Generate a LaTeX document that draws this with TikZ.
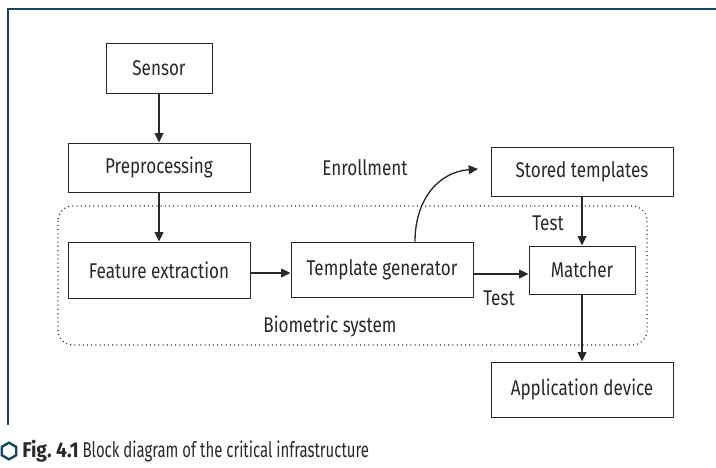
\documentclass[tikz,border=0pt]{standalone}
\usepackage{fontspec}
\setmainfont{Fira Sans}[FakeStretch=0.8]
\newfontfamily\capfont{Fira Sans}[FakeStretch=0.7]
\newfontfamily\capbold{Fira Sans Bold}[FakeStretch=0.9]
\usetikzlibrary{arrows.meta,shapes.geometric}
\definecolor{framecol}{RGB}{20,70,100}
\definecolor{inkcol}{RGB}{40,40,40}
\tikzset{
  blok/.style={draw=inkcol, line width=0.75pt, inner sep=0pt, text=inkcol,
    font=\fontsize{16}{19}\selectfont},
  lbl/.style={inner sep=0pt, text=inkcol, font=\fontsize{16}{19}\selectfont},
  arr/.style={draw=inkcol, line width=1pt, -{Triangle[length=7pt,width=6.5pt]}},
}
\begin{document}
\begin{tikzpicture}[x=0.75pt,y=0.75pt,yscale=-1,xscale=1]
        \useasboundingbox (0,0) rectangle (716,467);
        % frame
        \draw [framecol, line width=1.6pt] (716,9) -- (8,9) -- (8,425) ;
        % biometric system area
        \draw [inkcol, line width=0.9pt, dash pattern=on 0.75pt off 2.4pt, rounded corners=11pt] (58,206) rectangle (647,345) ;
        % blocks
        \node [blok, minimum width=79.5pt, minimum height=36.75pt] (sensor) at (159,68.5) {Sensor};
        \node [blok, minimum width=136.5pt, minimum height=36.75pt] (prep) at (159,167.5) {Preprocessing};
        \node [blok, minimum width=136.5pt, minimum height=42pt] (feat) at (159,270) {Feature extraction};
        \node [blok, minimum width=136.5pt, minimum height=41.25pt] (tgen) at (382,269.5) {Template generator};
        \node [blok, minimum width=136.5pt, minimum height=36.75pt] (store) at (582,171.5) {Stored templates};
        \node [blok, minimum width=79.5pt, minimum height=36pt] (match) at (582,270) {Matcher};
        \node [blok, minimum width=136.5pt, minimum height=41.25pt] (appdev) at (582,389.5) {Application device};
        % labels
        \node [lbl] (enrl) at (365,168) {Enrollment};
        \node [lbl] (testa) at (548,223) {Test};
        \node [lbl] (testb) at (499,298) {Test};
        \node [lbl] (biosys) at (330,326) {Biometric system};
        \coordinate (enrend) at (478,169);
        % connectors
        \draw [arr] (sensor) -- (prep);
        \draw [arr] (prep) -- (feat);
        \draw [arr] (feat.east |- 0,273) -- (tgen.west |- 0,273);
        \draw [arr] (tgen.east |- 0,274) -- (match.west |- 0,274);
        \draw [arr] (tgen.north -| 415,0) .. controls (415,200) and (438,172) .. (enrend);
        \draw [arr] (store) -- (match);
        \draw [arr] (match) -- (appdev);
        % caption
        \node [draw=framecol, line width=1.8pt, regular polygon, regular polygon sides=6, shape border rotate=30, minimum size=12.5pt, inner sep=0pt] (hexa) at (9,451) {};
        \node [anchor=west, inner sep=0pt, text=inkcol, font=\fontsize{16}{19}\capfont] (capt) at (22,451) {{\capbold Fig.~4.1} Block diagram of the critical infrastructure};
    \end{tikzpicture}
\end{document}
